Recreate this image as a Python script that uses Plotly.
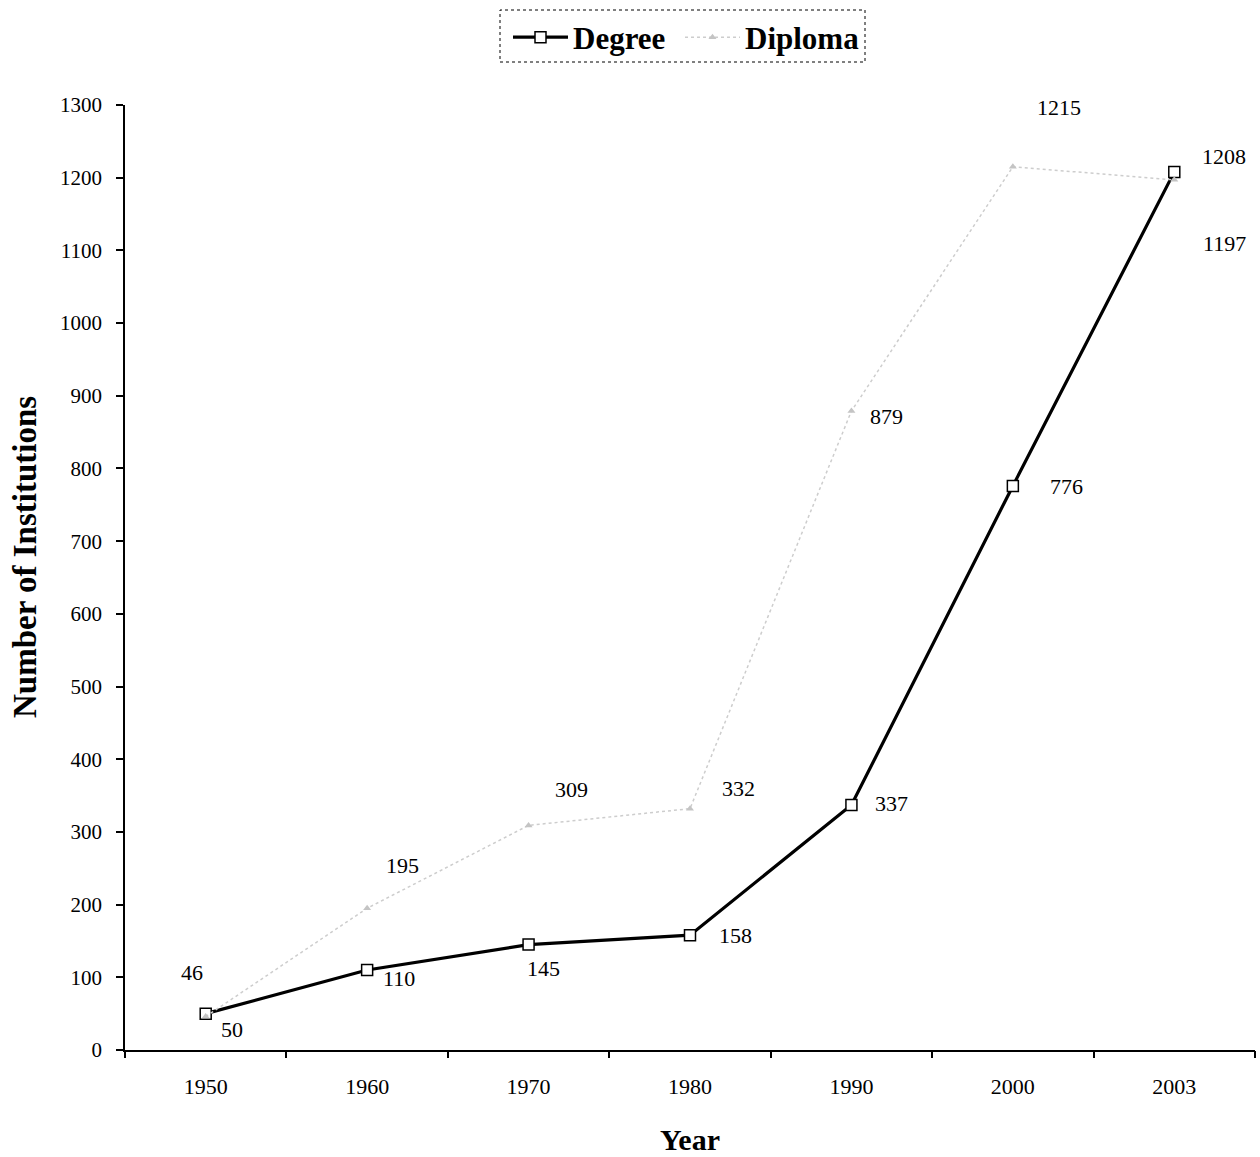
import plotly.graph_objects as go

# Number of institutions by year
years = ["1950", "1960", "1970", "1980", "1990", "2000", "2003"]
degree = [50, 110, 145, 158, 337, 776, 1208]
diploma = [46, 195, 309, 332, 879, 1215, 1197]

# label offsets (pixels) for the value annotations
degree_shift = [(26, -16), (32, -8), (15, -24), (45, 0), (40, 2), (54, -1), (50, 15)]
diploma_shift = [(-14, 44), (35, 43), (43, 36), (48, 20), (35, -5), (46, 59), (50, -64)]

FONT = "Liberation Serif, Times New Roman, serif"
idx = list(range(len(years)))

fig = go.Figure()
fig.add_trace(go.Scatter(
    x=idx, y=degree, name="Degree", mode="lines+markers", legend="legend",
    line=dict(color="black", width=3.2),
    marker=dict(symbol="square", size=11, color="white",
                line=dict(color="black", width=1.5)),
))
fig.add_trace(go.Scatter(
    x=idx, y=diploma, name="Diploma", mode="lines+markers", legend="legend2",
    line=dict(color="#cdcdcd", width=1.5, dash="dot"),
    marker=dict(symbol="triangle-up", size=7, color="#c4c4c4"),
))

annotations = []
for i, v, (dx, dy) in zip(idx, degree, degree_shift):
    annotations.append(dict(x=i, y=v, xref="x", yref="y", text=str(v),
                            showarrow=False, xshift=dx, yshift=dy,
                            font=dict(family=FONT, size=22, color="black")))
for i, v, (dx, dy) in zip(idx, diploma, diploma_shift):
    annotations.append(dict(x=i, y=v, xref="x", yref="y", text=str(v),
                            showarrow=False, xshift=dx, yshift=dy,
                            font=dict(family=FONT, size=22, color="black")))

# y-axis title, drawn as rotated text
annotations.append(dict(text="<b>Number of Institutions</b>", textangle=-90,
                        xref="paper", yref="paper",
                        x=(25 - 125) / 1130, y=(1050 - 557) / 945,
                        xanchor="center", yanchor="middle", showarrow=False,
                        font=dict(family=FONT, size=33, color="black")))

legend_style = dict(orientation="h", xanchor="left", y=1.1, yanchor="top",
                    bgcolor="rgba(0,0,0,0)", borderwidth=0,
                    font=dict(family=FONT, size=31, color="black", weight="bold"),
                    itemwidth=55)

fig.update_layout(
    width=1260, height=1157,
    margin=dict(l=125, r=5, t=105, b=107),
    paper_bgcolor="white", plot_bgcolor="white",
    font=dict(family=FONT, size=22, color="black"),
    showlegend=True,
    legend=dict(x=(508 - 125) / 1130, **legend_style),
    legend2=dict(x=(680 - 125) / 1130, **legend_style),
    annotations=annotations,
    shapes=[dict(type="rect", xref="paper", yref="paper",
                 x0=(500 - 125) / 1130, x1=(865 - 125) / 1130,
                 y0=1 + (105 - 62) / 945, y1=1 + (105 - 10) / 945,
                 line=dict(color="black", width=1, dash="dot"))],
    xaxis=dict(
        range=[-0.5, 6.5], tickmode="array", tickvals=idx, ticktext=years,
        showline=True, linecolor="black", linewidth=1.5,
        ticks="", showgrid=False, zeroline=False,
        ticklabelstandoff=16,
        tickfont=dict(family=FONT, size=22),
        title=dict(text="Year", standoff=31,
                   font=dict(family=FONT, size=30, weight="bold")),
    ),
    # category boundaries carry the x tick marks
    xaxis2=dict(
        overlaying="x", anchor="y", side="bottom",
        range=[-0.5, 6.5], tickmode="array",
        tickvals=[i - 0.5 for i in idx] + [6.5], ticktext=[""] * 8,
        ticks="outside", ticklen=7, tickcolor="black", tickwidth=1.5,
        showline=False, showgrid=False, zeroline=False, showticklabels=False,
    ),
    yaxis=dict(
        range=[0, 1300], dtick=100,
        showline=True, linecolor="black", linewidth=1.5,
        ticks="outside", ticklen=7, tickcolor="black", tickwidth=1.5,
        showgrid=False, zeroline=False,
        ticklabelstandoff=10,
        tickfont=dict(family=FONT, size=21),
    ),
)
# invisible helper trace so the boundary tick axis is drawn
fig.add_trace(go.Scatter(x=[None], y=[None], xaxis="x2", showlegend=False,
                         hoverinfo="skip"))

fig.write_html("out.html")
